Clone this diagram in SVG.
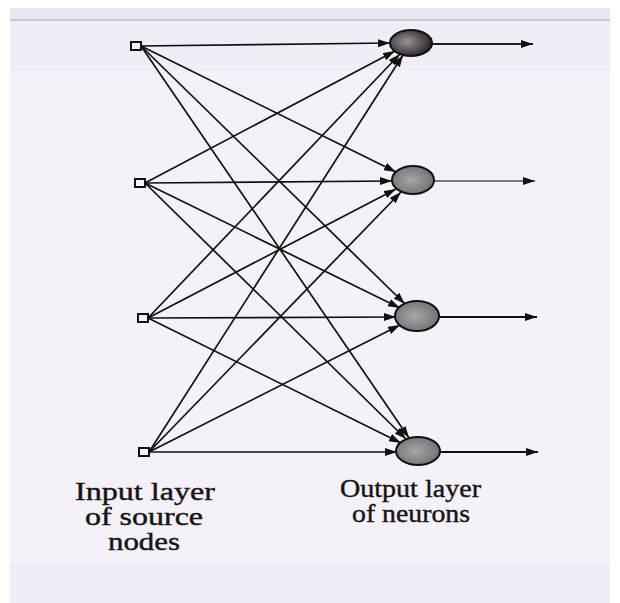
<svg xmlns="http://www.w3.org/2000/svg" width="620" height="603" viewBox="0 0 620 603">
<defs>
<marker id="ah" markerUnits="userSpaceOnUse" markerWidth="14" markerHeight="10" refX="12" refY="4" orient="auto">
<path d="M0,0 L12,4 L0,8 Z" fill="#111"/>
</marker>
<radialGradient id="gTop" cx="0.4" cy="0.45" r="0.6">
<stop offset="0" stop-color="#9a9498"/>
<stop offset="1" stop-color="#2a2428"/>
</radialGradient>
<radialGradient id="gMid" cx="0.45" cy="0.5" r="0.6">
<stop offset="0" stop-color="#a8a6aa"/>
<stop offset="1" stop-color="#6e6c70"/>
</radialGradient>
<style>
.src{fill:#f6f2f8;stroke:#111;stroke-width:2}
.neu{stroke:#111;stroke-width:2}
.c{stroke:#111;stroke-width:1.7;fill:none;marker-end:url(#ah)}
.out{stroke-width:2.2;fill:none;marker-end:url(#ah)}
.lbl{font-family:"Liberation Serif","Times New Roman",serif;font-size:25px;fill:#151515;stroke:#151515;stroke-width:0.4}
</style>
</defs>
<rect x="0" y="0" width="620" height="603" fill="#ffffff"/>
<rect x="10" y="8" width="600" height="595" fill="#f5f1f9"/>
<rect x="10" y="8" width="600" height="12" fill="#ebe7f1"/>
<rect x="10" y="19" width="600" height="2" fill="#cbc7d3"/>
<rect x="10" y="21" width="600" height="50" fill="#f1edf6"/>
<rect x="10" y="565" width="600" height="38" fill="#f0ecf5"/>

<g id="connectors">
<line class="c" x1="141" y1="46" x2="390" y2="43"/>
<line class="c" x1="141" y1="46" x2="396" y2="172"/>
<line class="c" x1="141" y1="46" x2="405" y2="304"/>
<line class="c" x1="141" y1="46" x2="409" y2="438"/>

<line class="c" x1="145" y1="183" x2="395" y2="51"/>
<line class="c" x1="145" y1="183" x2="392" y2="181"/>
<line class="c" x1="145" y1="183" x2="400" y2="308"/>
<line class="c" x1="145" y1="183" x2="406" y2="439"/>

<line class="c" x1="148" y1="318" x2="400" y2="54"/>
<line class="c" x1="148" y1="318" x2="396" y2="189"/>
<line class="c" x1="148" y1="318" x2="396" y2="317"/>
<line class="c" x1="148" y1="318" x2="401" y2="443"/>

<line class="c" x1="149" y1="452" x2="403" y2="55"/>
<line class="c" x1="149" y1="452" x2="401" y2="192"/>
<line class="c" x1="149" y1="452" x2="400" y2="325"/>
<line class="c" x1="149" y1="452" x2="397" y2="452"/>

<line class="out" stroke="#222" x1="432" y1="44" x2="533" y2="44"/>
<line class="out" stroke="#777" x1="434" y1="181" x2="535" y2="181"/>
<line class="out" stroke="#111" x1="439" y1="317" x2="537" y2="317"/>
<line class="out" stroke="#111" x1="440" y1="452" x2="538" y2="452"/>
</g>

<g id="in1"><rect class="src" x="131" y="42" width="10" height="8"/></g>
<g id="in2"><rect class="src" x="135" y="179" width="10" height="8"/></g>
<g id="in3"><rect class="src" x="138" y="314" width="10" height="8"/></g>
<g id="in4"><rect class="src" x="139" y="448" width="10" height="8"/></g>

<g id="out1"><ellipse class="neu" cx="411" cy="43" rx="21" ry="13" fill="url(#gTop)"/></g>
<g id="out2"><ellipse class="neu" cx="413" cy="180" rx="21" ry="14" fill="url(#gMid)"/></g>
<g id="out3"><ellipse class="neu" cx="417" cy="316" rx="22" ry="15" fill="url(#gMid)"/></g>
<g id="out4"><ellipse class="neu" cx="418" cy="451" rx="22" ry="14" fill="url(#gMid)"/></g>

<g id="label-input">
<text class="lbl" x="75" y="500" textLength="140" lengthAdjust="spacingAndGlyphs">Input layer</text>
<text class="lbl" x="85" y="525" textLength="118" lengthAdjust="spacingAndGlyphs">of source</text>
<text class="lbl" x="108" y="550" textLength="72" lengthAdjust="spacingAndGlyphs">nodes</text>
</g>
<g id="label-output">
<text class="lbl" x="340" y="497" textLength="141" lengthAdjust="spacingAndGlyphs">Output layer</text>
<text class="lbl" x="352" y="522" textLength="118" lengthAdjust="spacingAndGlyphs">of neurons</text>
</g>
</svg>
